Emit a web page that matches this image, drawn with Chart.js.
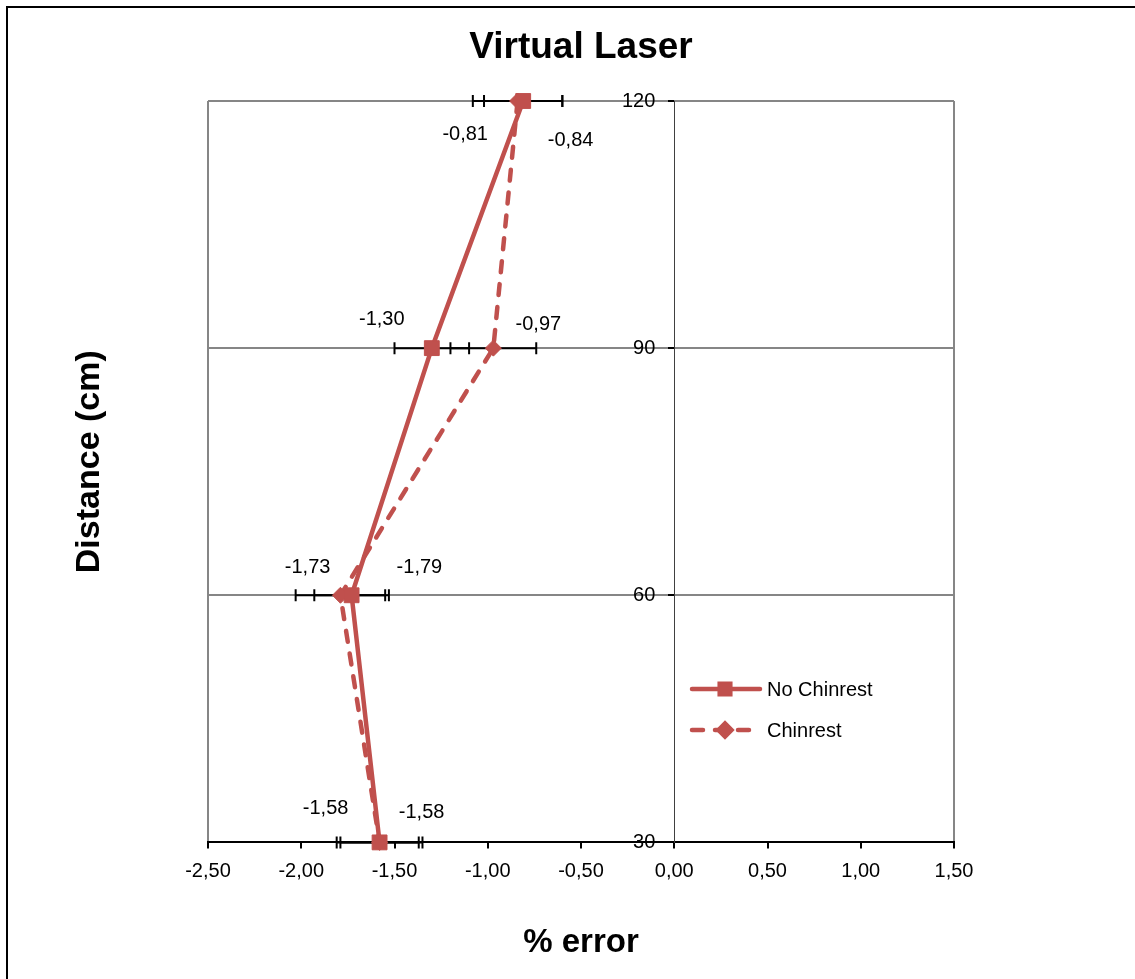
<!DOCTYPE html>
<html>
<head>
<meta charset="utf-8">
<title>Virtual Laser</title>
<script src="https://cdn.jsdelivr.net/npm/chart.js@4.4.1/dist/chart.umd.min.js"></script>
<style>
    html, body { margin: 0; padding: 0; background: #fff; }
    canvas { display: block; }
</style>
</head>
<body>
<canvas id="laserChart" width="1135" height="979"></canvas>
<script>
// distances (cm) and mean % error per condition
const distances = [120, 90, 60, 30];
const noChinrest = [-0.81, -1.30, -1.73, -1.58];
const chinrest = [-0.84, -0.97, -1.79, -1.58];
// half-width of the error bars
const noChinrestErr = [0.21, 0.20, 0.20, 0.21];
const chinrestErr = [0.24, 0.23, 0.24, 0.23];
const xTicks = [-2.5, -2.0, -1.5, -1.0, -0.5, 0, 0.5, 1.0, 1.5];
const yTicks = [30, 60, 90, 120];

const RED = '#C0504D';
const FONT = '"Liberation Sans", Arial, sans-serif';

function fmt(v) {
    return v.toFixed(2).replace('.', ',');
}

function points(values) {
    return distances.map((d, i) => ({ x: values[i], y: d }));
}

// where each data label sits relative to its point (px)
const labelShift = [
    [[-58, 33], [-50, -29], [-44, -28], [-54, -34]],
    [[53, 39], [45, -24], [79, -28], [42, -30]],
];

const frame = {
    id: 'frame',
    beforeDraw(chart) {
        const ctx = chart.ctx;
        ctx.save();
        ctx.strokeStyle = '#000';
        ctx.lineWidth = 2;
        ctx.beginPath();
        ctx.moveTo(7, 979);
        ctx.lineTo(7, 7);
        ctx.lineTo(1135, 7);
        ctx.stroke();
        ctx.restore();

        // y labels sit a bit left of the x=0 axis line
        const items = chart.scales.y.getLabelItems();
        items.forEach((item) => {
            if (!item._moved) {
                item.options.translation[0] -= 19;
                item._moved = true;
            }
        });
    },
};

const errorBars = {
    id: 'errorBars',
    beforeDatasetsDraw(chart) {
        const ctx = chart.ctx;
        const xs = chart.scales.x;
        const ys = chart.scales.y;
        const errs = [noChinrestErr, chinrestErr];
        const vals = [noChinrest, chinrest];
        ctx.save();
        ctx.strokeStyle = '#000';
        ctx.lineWidth = 2;
        vals.forEach((series, s) => {
            series.forEach((v, i) => {
                const y = ys.getPixelForValue(distances[i]);
                const x1 = xs.getPixelForValue(v - errs[s][i]);
                const x2 = xs.getPixelForValue(v + errs[s][i]);
                ctx.beginPath();
                ctx.moveTo(x1, y);
                ctx.lineTo(x2, y);
                ctx.moveTo(x1, y - 6);
                ctx.lineTo(x1, y + 6);
                ctx.moveTo(x2, y - 6);
                ctx.lineTo(x2, y + 6);
                ctx.stroke();
            });
        });
        ctx.restore();
    },
};

const extras = {
    id: 'extras',
    afterDraw(chart) {
        const ctx = chart.ctx;
        const area = chart.chartArea;
        ctx.save();

        // data labels
        ctx.fillStyle = '#000';
        ctx.font = '20px ' + FONT;
        ctx.textAlign = 'center';
        ctx.textBaseline = 'middle';
        [noChinrest, chinrest].forEach((series, s) => {
            const meta = chart.getDatasetMeta(s);
            series.forEach((v, i) => {
                const pt = meta.data[i];
                const [dx, dy] = labelShift[s][i];
                ctx.fillText(fmt(v), pt.x + dx, pt.y + dy);
            });
        });

        // y axis title
        ctx.font = 'bold 34px ' + FONT;
        ctx.translate(90, (area.top + area.bottom) / 2 - 10);
        ctx.rotate(-Math.PI / 2);
        ctx.fillText('Distance (cm)', 0, 0);
        ctx.restore();

        // legend
        ctx.save();
        const lx = 690;
        const rows = [689, 730];
        chart.data.datasets.forEach((ds, i) => {
            const y = rows[i];
            ctx.strokeStyle = ds.borderColor;
            ctx.lineWidth = ds.borderWidth;
            ctx.lineCap = 'round';
            ctx.setLineDash(ds.borderDash || []);
            ctx.beginPath();
            ctx.moveTo(lx + 2, y);
            ctx.lineTo(lx + 70, y);
            ctx.stroke();
            ctx.setLineDash([]);
            Chart.helpers.drawPoint(ctx, {
                pointStyle: ds.pointStyle,
                radius: ds.pointStyle === 'rect' ? 7.5 : 6.5,
                borderWidth: 1,
            }, lx + 35, y);
            ctx.fillStyle = ds.pointBackgroundColor;
            ctx.fill();
            ctx.fillStyle = '#000';
            ctx.font = '20px ' + FONT;
            ctx.textAlign = 'left';
            ctx.textBaseline = 'middle';
            ctx.fillText(ds.label, lx + 77, y + 1);
        });
        ctx.restore();
    },
};

new Chart(document.getElementById('laserChart'), {
    type: 'scatter',
    data: {
        datasets: [
            {
                label: 'No Chinrest',
                data: points(noChinrest),
                showLine: true,
                clip: false,
                borderColor: RED,
                backgroundColor: RED,
                borderWidth: 4.5,
                pointStyle: 'rect',
                pointRadius: 10.5,
                pointBackgroundColor: RED,
                pointBorderColor: RED,
                pointBorderWidth: 1,
            },
            {
                label: 'Chinrest',
                data: points(chinrest),
                showLine: true,
                clip: false,
                borderColor: RED,
                backgroundColor: RED,
                borderWidth: 4.5,
                borderDash: [11, 12],
                borderCapStyle: 'round',
                pointStyle: 'rectRot',
                pointRadius: 8,
                pointBackgroundColor: RED,
                pointBorderColor: RED,
                pointBorderWidth: 1,
            },
        ],
    },
    options: {
        responsive: false,
        devicePixelRatio: 1,
        animation: false,
        layout: {
            padding: { left: 208, right: 181, top: 0, bottom: 12 },
        },
        plugins: {
            legend: { display: false },
            tooltip: { enabled: false },
            title: {
                display: true,
                text: 'Virtual Laser',
                color: '#000',
                font: { family: FONT, size: 37, weight: 'bold' },
                padding: { top: 26, bottom: 30.6 },
            },
        },
        scales: {
            x: {
                type: 'linear',
                position: 'bottom',
                min: -2.5,
                max: 1.5,
                afterBuildTicks(scale) {
                    scale.ticks = xTicks.map((v) => ({ value: v }));
                },
                grid: {
                    drawOnChartArea: true,
                    color(c) {
                        return (c.index === 0 || c.index === xTicks.length - 1) ? '#868686' : 'rgba(0,0,0,0)';
                    },
                    lineWidth: 2,
                    tickColor: '#000',
                    tickLength: 6,
                },
                border: { color: '#000', width: 2 },
                ticks: {
                    color: '#000',
                    padding: 11,
                    font: { family: FONT, size: 20 },
                    callback: (v) => fmt(v),
                },
                title: {
                    display: true,
                    text: '% error',
                    color: '#000',
                    font: { family: FONT, size: 33, weight: 'bold' },
                    padding: { top: 29, bottom: 4 },
                },
            },
            y: {
                type: 'linear',
                position: { x: 0 },
                min: 30,
                max: 120,
                afterBuildTicks(scale) {
                    scale.ticks = yTicks.map((v) => ({ value: v }));
                },
                grid: {
                    color: '#868686',
                    lineWidth: 2,
                    tickColor: '#000',
                    tickLength: 6,
                },
                border: { color: '#404040', width: 1 },
                ticks: {
                    color: '#000',
                    padding: 13,
                    font: { family: FONT, size: 20 },
                },
            },
        },
    },
    plugins: [frame, errorBars, extras],
});
</script>
</body>
</html>
